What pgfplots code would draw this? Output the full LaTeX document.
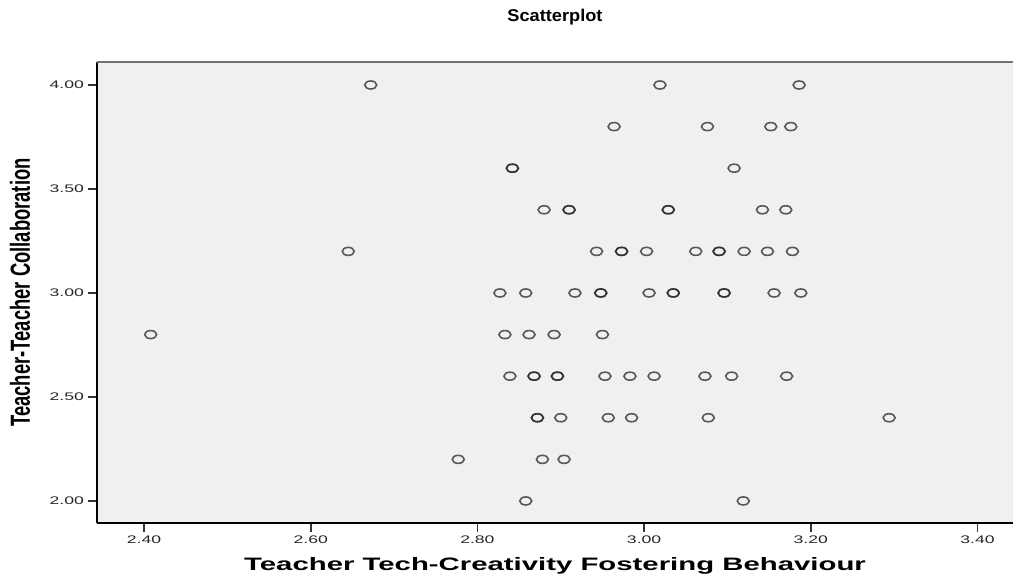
\documentclass[border=0pt]{standalone}
\usepackage{pgfplots}
\pgfplotsset{compat=1.18}
\usepackage{fontspec}
\setmainfont{Liberation Sans}
\newcommand{\sx}[1]{\scalebox{1.6}[1]{#1}}
\definecolor{panel}{HTML}{F0F0F0}
\begin{document}
\begin{tikzpicture}
\begin{axis}[
  scale only axis,
  width=458pt, height=230.5pt,
  xmin=2.3436, xmax=3.4426,
  ymin=1.894, ymax=4.1106,
  axis background/.style={fill=panel},
  axis x line*=bottom, axis y line*=left,
  axis line style={black, line width=0.8pt, -},
  tick align=outside,
  major tick length=4.5pt,
  tick style={black!80, line width=0.8pt},
  xtick={2.4,2.6,2.8,3.0,3.2,3.4},
  xticklabels={\sx{2.40},\sx{2.60},\sx{2.80},\sx{3.00},\sx{3.20},\sx{3.40}},
  ytick={2.0,2.5,3.0,3.5,4.0},
  yticklabels={\sx{2.00},\sx{2.50},\sx{3.00},\sx{3.50},\sx{4.00}},
  ticklabel style={font=\fontsize{5.5}{6}\selectfont, text=black!85},
  xticklabel style={yshift=1.5pt},
  yticklabel style={xshift=1.5pt},
  title={\scalebox{1.07}[1]{Scatterplot}},
  title style={at={(axis description cs:0.5,1.0976)}, anchor=center, yshift=-6pt, font=\fontsize{8.5}{9}\selectfont\bfseries},
  xlabel={\scalebox{1.63}[1]{Teacher Tech-Creativity Fostering Behaviour}},
  xlabel style={at={(axis description cs:0.5,-0.0933)}, anchor=center, font=\fontsize{9}{10}\selectfont\bfseries},
  ylabel={\scalebox{1}[1.5]{Teacher-Teacher Collaboration}},
  ylabel style={at={(axis description cs:-0.0840,0.5)}, anchor=center, font=\fontsize{9.2}{10}\selectfont\bfseries},
  clip=false,
]
\addplot[only marks, mark=o, mark size=2pt,
  mark options={xscale=1.5, draw=black!85, draw opacity=0.75, line width=0.8pt}]
  table[row sep=\\]{
  x y\\
  2.672 4.0\\ 3.019 4.0\\ 3.186 4.0\\
  2.964 3.8\\ 3.076 3.8\\ 3.152 3.8\\ 3.176 3.8\\
  2.842 3.6\\ 2.842 3.6\\ 3.108 3.6\\
  2.880 3.4\\ 2.910 3.4\\ 2.910 3.4\\ 3.029 3.4\\ 3.029 3.4\\ 3.142 3.4\\ 3.170 3.4\\
  2.645 3.2\\ 2.943 3.2\\ 2.973 3.2\\ 2.973 3.2\\ 3.003 3.2\\ 3.062 3.2\\ 3.090 3.2\\ 3.090 3.2\\ 3.120 3.2\\ 3.148 3.2\\ 3.178 3.2\\
  2.827 3.0\\ 2.858 3.0\\ 2.917 3.0\\ 2.948 3.0\\ 2.948 3.0\\ 3.006 3.0\\ 3.035 3.0\\ 3.035 3.0\\ 3.096 3.0\\ 3.096 3.0\\ 3.156 3.0\\ 3.188 3.0\\
  2.408 2.8\\ 2.833 2.8\\ 2.862 2.8\\ 2.892 2.8\\ 2.950 2.8\\
  2.839 2.6\\ 2.868 2.6\\ 2.868 2.6\\ 2.896 2.6\\ 2.896 2.6\\ 2.953 2.6\\ 2.983 2.6\\ 3.012 2.6\\ 3.073 2.6\\ 3.105 2.6\\ 3.171 2.6\\
  2.872 2.4\\ 2.872 2.4\\ 2.900 2.4\\ 2.957 2.4\\ 2.985 2.4\\ 3.077 2.4\\ 3.294 2.4\\
  2.777 2.2\\ 2.878 2.2\\ 2.904 2.2\\
  2.858 2.0\\ 3.119 2.0\\
  };
\draw[black!55, line width=0.8pt] (rel axis cs:0,1) -- (rel axis cs:1,1);
\end{axis}
\path (current axis.south west) ++(-48.5pt,-30pt) coordinate (bl);
\path (current axis.north east) ++(0pt,31pt) coordinate (tr);
\pgfresetboundingbox
\path[use as bounding box] (bl) rectangle (tr);
\end{tikzpicture}
\end{document}
